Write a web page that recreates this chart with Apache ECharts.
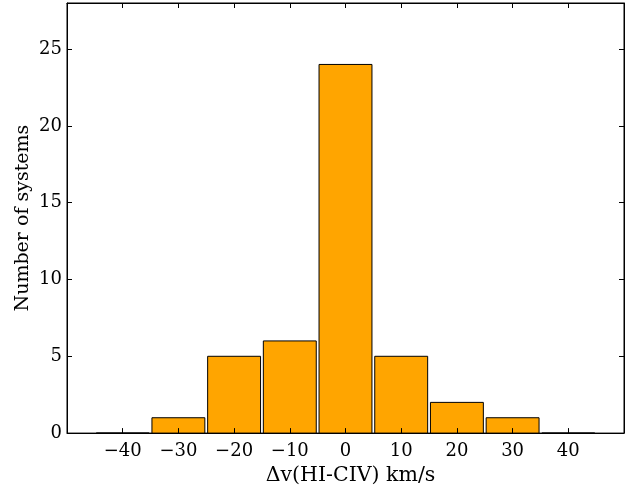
<!DOCTYPE html>
<html><head><meta charset="utf-8">
<script src="https://cdn.jsdelivr.net/npm/echarts@6/dist/echarts.min.js"></script>
<style>html,body{margin:0;padding:0;background:#fff}#c{width:641px;height:491px}</style>
</head><body><div id="c"></div>
<script>
const binCenters = [-40, -30, -20, -10, 0, 10, 20, 30, 40];
const counts = [0, 1, 5, 6, 24, 5, 2, 1, 0];
const xTicks = [-40, -30, -20, -10, 0, 10, 20, 30, 40];
const yTicks = [0, 5, 10, 15, 20, 25];
const xLabel = 'Δv(HI-CIV) km/s';
const yLabel = 'Number of systems';

const FONT = 'DejaVu Serif';
const barW = 9.5;
const data = binCenters.map((c, i) => [c, counts[i]]);

const chart = echarts.init(document.getElementById('c'));
const tickCommon = {show: true, inside: true, length: 5, lineStyle: {color: '#000', width: 1}};
const lineCommon = {show: true, onZero: false, lineStyle: {color: '#000', width: 1}};
chart.setOption({
  animation: false,
  grid: {left: 67, right: 17, top: 3, bottom: 57, show: true, borderColor: '#000', borderWidth: 1, backgroundColor: 'transparent'},
  xAxis: [{
    type: 'value', min: -50, max: 50, z: 5,
    name: xLabel, nameLocation: 'middle', nameGap: 26,
    nameTextStyle: {fontFamily: FONT, fontSize: 20.5, color: '#000', padding: [0, 0, 0, 10]},
    axisLine: lineCommon,
    axisTick: Object.assign({customValues: xTicks}, tickCommon),
    axisLabel: {customValues: xTicks, margin: 9, fontFamily: FONT, fontSize: 18, color: '#000',
      formatter: v => (v < 0 ? '\u2212' + Math.abs(v) : '' + v)},
    splitLine: {show: false}
  }, {
    type: 'value', min: -50, max: 50, position: 'top', z: 5,
    axisLine: lineCommon,
    axisTick: Object.assign({customValues: xTicks}, tickCommon),
    axisLabel: {show: false}, splitLine: {show: false}
  }],
  yAxis: [{
    type: 'value', min: 0, max: 28, z: 5,
    name: yLabel, nameLocation: 'middle', nameGap: 34, nameRotate: 90, nameMoveOverlap: false,
    nameTextStyle: {fontFamily: FONT, fontSize: 19, color: '#000'},
    axisLine: lineCommon,
    axisTick: Object.assign({customValues: yTicks}, tickCommon),
    axisLabel: {customValues: yTicks, margin: 5, fontFamily: FONT, fontSize: 18, color: '#000'},
    splitLine: {show: false}
  }, {
    type: 'value', min: 0, max: 28, position: 'right', z: 5,
    axisLine: lineCommon,
    axisTick: Object.assign({customValues: yTicks}, tickCommon),
    axisLabel: {show: false}, splitLine: {show: false}
  }],
  series: [{
    type: 'custom', z: 1,
    xAxisIndex: 0, yAxisIndex: 0,
    data: data,
    renderItem: function (params, api) {
      const x = api.value(0), y = api.value(1);
      const p0 = api.coord([x - barW / 2, y]);
      const p1 = api.coord([x + barW / 2, 0]);
      return {
        type: 'rect',
        shape: {x: p0[0], y: p0[1], width: p1[0] - p0[0], height: p1[1] - p0[1]},
        style: {fill: '#FFA500', stroke: '#000', lineWidth: 1}
      };
    }
  }]
});
</script></body></html>
